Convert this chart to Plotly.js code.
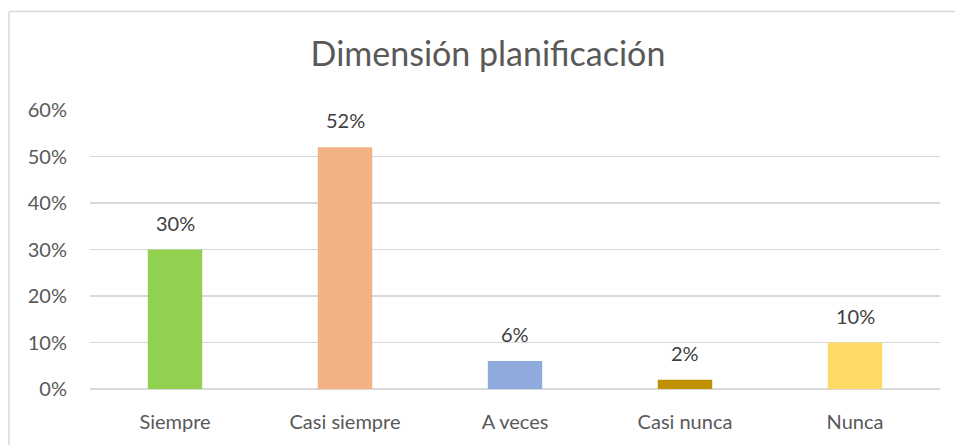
<!DOCTYPE html>
<html><head><meta charset="utf-8">
<script src="https://cdn.plot.ly/plotly-3.0.1.min.js"></script>
<style>html,body{margin:0;padding:0;background:#fff;}#chart{width:955px;height:445px;}</style>
</head><body><div id="chart"></div>
<script>
const categories = ["Siempre", "Casi siempre", "A veces", "Casi nunca", "Nunca"];
const values = [0.30, 0.52, 0.06, 0.02, 0.10];
const labels = ["30%", "52%", "6%", "2%", "10%"];
const colors = ["#92D050", "#F4B183", "#8FAADC", "#BF9000", "#FFD966"];
const tickVals = [0, 0.1, 0.2, 0.3, 0.4, 0.5, 0.6];
const tickText = ["0%", "10%", "20%", "30%", "40%", "50%", "60%"];

const font = "Lato, 'Open Sans', sans-serif";
const trace = {
  type: "bar", x: categories, y: values,
  marker: {color: colors},
  hoverinfo: "skip"
};
const annotations = categories.map((c, i) => ({
  x: c, y: values[i], xref: "x", yref: "y", text: labels[i],
  showarrow: false, yanchor: "bottom", yshift: 13,
  font: {family: font, size: 20, color: "#404040"}
}));
const layout = {
  width: 955, height: 445,
  margin: {l: 90, r: 15, t: 110, b: 56},
  paper_bgcolor: "#fff", plot_bgcolor: "#fff",
  bargap: 0.68,
  showlegend: false,
  title: {text: "Dimensión planificación", x: 0.511, xanchor: "center", y: 0.878, yanchor: "middle",
          font: {family: font, size: 34, color: "#595959"}},
  xaxis: {type: "category", showgrid: false, zeroline: false, showline: false, ticks: "",
          ticklabelstandoff: 19,
          tickfont: {family: font, size: 20, color: "#595959"}},
  yaxis: {range: [0, 0.6], tickvals: tickVals, ticktext: tickText, showgrid: true,
          gridcolor: "#D9D9D9", gridwidth: 1.5, zeroline: true, zerolinecolor: "#D9D9D9", zerolinewidth: 1.5,
          showline: false, ticks: "", ticklabelstandoff: 22,
          tickfont: {family: font, size: 20, color: "#595959"}},
  annotations: annotations,
  shapes: [
    {type: "line", xref: "paper", yref: "paper", x0: (9 - 90) / 850, x1: 1.02, y0: (389 - 11.5) / 279, y1: (389 - 11.5) / 279,
     line: {color: "#D9D9D9", width: 1.5}},
    {type: "line", xref: "paper", yref: "paper", x0: (9 - 90) / 850, x1: (9 - 90) / 850, y0: (389 - 11.5) / 279, y1: -0.3,
     line: {color: "#D9D9D9", width: 1.5}}
  ]
};
Plotly.newPlot("chart", [trace], layout, {staticPlot: true, displayModeBar: false});
</script></body></html>
